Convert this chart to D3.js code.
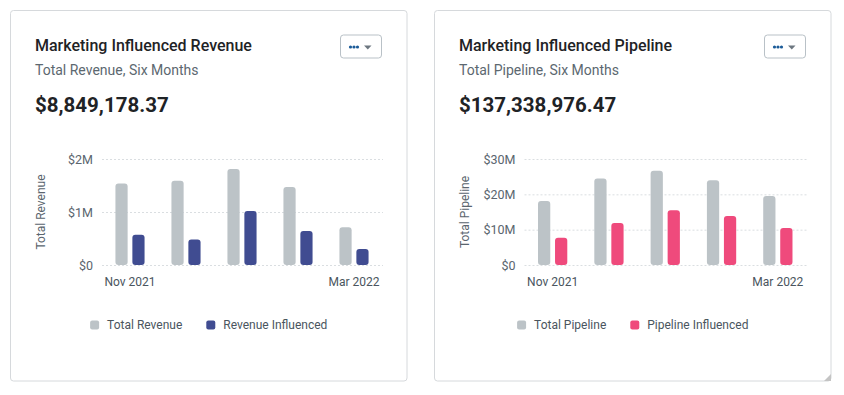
<!DOCTYPE html>
<html>
<head>
<meta charset="utf-8">
<script src="https://cdn.jsdelivr.net/npm/d3@7"></script>
<style>
  body { margin: 0; background: #fff; }
  svg { font-family: Roboto, "Open Sans", sans-serif; display: block; }
</style>
</head>
<body>
<svg id="chart" width="844" height="395"></svg>
<script>
// data
var months = ["Nov 2021", "Dec 2021", "Jan 2022", "Feb 2022", "Mar 2022"];
var totalRevenue = [1540000, 1590000, 1810000, 1470000, 710000];
var revenueInfluenced = [570000, 480000, 1020000, 640000, 300000];
var totalPipeline = [18100000, 24500000, 26700000, 24000000, 19500000];
var pipelineInfluenced = [7700000, 11900000, 15500000, 13900000, 10500000];
var revenueTicks = [0, 1000000, 2000000];
var pipelineTicks = [0, 10000000, 20000000, 30000000];
var shownMonths = ["Nov 2021", "Mar 2022"];

var svg = d3.select("#chart");

drawCard({
    left: 10.5, plotLeft: 91.5,
    title: "Marketing Influenced Revenue",
    subtitle: "Total Revenue, Six Months",
    total: "$8,849,178.37",
    yTitle: "Total Revenue",
    names: ["Total Revenue", "Revenue Influenced"],
    series: [totalRevenue, revenueInfluenced],
    colors: ["#bcc3c7", "#404c91"],
    ticks: revenueTicks
});

drawCard({
    left: 434.5, plotLeft: 90,
    title: "Marketing Influenced Pipeline",
    subtitle: "Total Pipeline, Six Months",
    total: "$137,338,976.47",
    yTitle: "Total Pipeline",
    names: ["Total Pipeline", "Pipeline Influenced"],
    series: [totalPipeline, pipelineInfluenced],
    colors: ["#bcc3c7", "#ef4a7c"],
    ticks: pipelineTicks,
    handle: true
});

function fmtMoney(v) {
    return v === 0 ? "$0" : "$" + (v / 1e6) + "M";
}

function drawCard(c) {
    var W = 396.5, H = 370.5;
    var g = svg.append("g").attr("transform", "translate(" + c.left + ",10.5)");

    g.append("rect")
        .attr("width", W).attr("height", H)
        .attr("rx", 3)
        .attr("fill", "#fff")
        .attr("stroke", "#d6d9dc");

    if (c.handle) {
        g.append("path")
            .attr("d", "M" + (W - 7) + "," + H + "L" + W + "," + H + "L" + W + "," + (H - 7) + "Z")
            .attr("fill", "#c4c4c4");
    }

    // header
    g.append("text").attr("x", 24.5).attr("y", 40)
        .attr("font-size", 16).attr("font-weight", 500).attr("fill", "#1f2326")
        .text(c.title);
    g.append("text").attr("x", 24.5).attr("y", 64)
        .attr("font-size", 14).attr("fill", "#5c6870")
        .text(c.subtitle);
    g.append("text").attr("x", 24.5).attr("y", 101.5)
        .attr("font-size", 20.5).attr("font-weight", 700).attr("fill", "#1f2326")
        .text(c.total);

    // menu button
    var btn = g.append("g").attr("transform", "translate(330,24.5)");
    btn.append("rect").attr("width", 41).attr("height", 23).attr("rx", 3)
        .attr("fill", "#fff").attr("stroke", "#b9c1c7");
    btn.selectAll("circle").data([10, 13.5, 17]).enter().append("circle")
        .attr("cx", function(d) { return d; })
        .attr("cy", 12)
        .attr("r", 1.6)
        .attr("fill", "#1b5b98");
    btn.append("path").attr("d", "M23.5,10.5L31,10.5L27.25,14.5Z").attr("fill", "#6d7780");

    // scales
    var plotRight = 371.5, top = 148.5, bottom = 254.5;
    var x0 = d3.scaleBand().domain(months).range([c.plotLeft, plotRight])
        .paddingInner(0.48).paddingOuter(0.24);
    var x1 = d3.scaleBand().domain([0, 1]).range([0, x0.bandwidth()]).paddingInner(0.28);
    var y = d3.scaleLinear().domain([0, c.ticks[c.ticks.length - 1]]).range([bottom, top]);

    // gridlines + y labels
    var yAxis = g.append("g").attr("transform", "translate(" + c.plotLeft + ",0)")
        .call(d3.axisLeft(y).tickValues(c.ticks).tickFormat(fmtMoney)
            .tickSize(-(plotRight - c.plotLeft + 1)).tickPadding(9));
    yAxis.select(".domain").remove();
    yAxis.selectAll(".tick line")
        .attr("stroke", "#dadee1").attr("stroke-dasharray", "2,2");
    yAxis.selectAll(".tick text")
        .attr("font-size", 12.5).attr("fill", "#5a656e").attr("font-family", "Roboto, sans-serif");

    g.append("text")
        .attr("transform", "translate(34.5," + ((top + bottom) / 2) + ") rotate(-90)")
        .attr("text-anchor", "middle")
        .attr("font-size", 12).attr("fill", "#5a656e")
        .text(c.yTitle);

    // x labels (first and last month only)
    var xAxis = g.append("g").attr("transform", "translate(0," + bottom + ")")
        .call(d3.axisBottom(x0).tickValues(shownMonths).tickSize(0).tickPadding(12));
    xAxis.select(".domain").remove();
    xAxis.selectAll(".tick text")
        .attr("font-size", 12).attr("fill", "#4a555e").attr("font-family", "Roboto, sans-serif");

    // bars
    var groups = g.selectAll(".grp").data(months).enter().append("g")
        .attr("class", "grp")
        .attr("transform", function(d) { return "translate(" + x0(d) + ",0)"; });
    groups.selectAll("rect")
        .data(function(d, i) { return c.series.map(function(s, k) { return { k: k, v: s[i] }; }); })
        .enter().append("rect")
        .attr("x", function(d) { return x1(d.k); })
        .attr("width", x1.bandwidth())
        .attr("y", function(d) { return y(d.v); })
        .attr("height", function(d) { return y(0) - y(d.v); })
        .attr("rx", 3)
        .attr("fill", function(d) { return c.colors[d.k]; });

    // legend, centred in the card
    var leg = g.append("g").attr("transform", "translate(0,314.5)");
    var items = leg.selectAll(".item").data(c.names).enter().append("g").attr("class", "item");
    items.append("rect").attr("y", -4.5).attr("width", 9).attr("height", 9).attr("rx", 2)
        .attr("fill", function(d, i) { return c.colors[i]; });
    items.append("text").attr("x", 17).attr("dy", "0.35em")
        .attr("font-size", 12).attr("fill", "#4a555e")
        .text(function(d) { return d; });
    var xpos = 0;
    items.each(function() {
        var w = 17 + this.querySelector("text").getComputedTextLength();
        d3.select(this).attr("transform", "translate(" + xpos + ",0)");
        xpos += w + 24;
    });
    var legW = xpos - 24;
    leg.attr("transform", "translate(" + (W / 2 - legW / 2) + ",314.5)");
}
</script>
</body>
</html>
